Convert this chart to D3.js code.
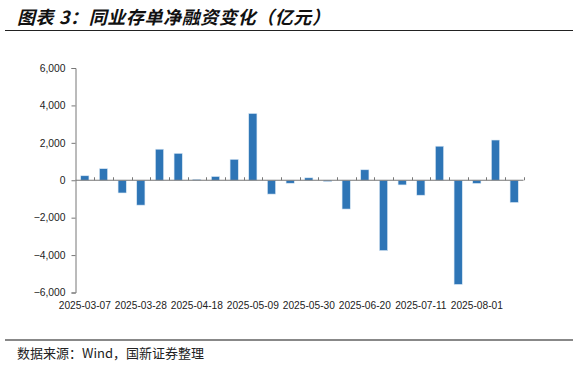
<!DOCTYPE html>
<html><head><meta charset="utf-8">
<script src="https://cdn.jsdelivr.net/npm/d3@7"></script>
<style>body{margin:0;background:#fff}svg{display:block}</style>
</head><body>
<svg id="c" width="578" height="367"></svg>
<script>
const dates = ["2025-03-07","2025-03-14","2025-03-21","2025-03-28","2025-04-04","2025-04-11","2025-04-18","2025-04-25","2025-05-02","2025-05-09","2025-05-16","2025-05-23","2025-05-30","2025-06-06","2025-06-13","2025-06-20","2025-06-27","2025-07-04","2025-07-11","2025-07-18","2025-07-25","2025-08-01","2025-08-08","2025-08-15"];
const values = [240,620,-680,-1330,1660,1440,50,200,1120,3570,-740,-160,130,-70,-1540,560,-3760,-250,-800,1820,-5570,-170,2150,-1190];
const yTicks = [-6000,-4000,-2000,0,2000,4000,6000];
const labelDates = ["2025-03-07","2025-03-28","2025-04-18","2025-05-09","2025-05-30","2025-06-20","2025-07-11","2025-08-01"];
const title = "图表 3：同业存单净融资变化（亿元）";
const source = "数据来源：Wind，国新证券整理";

const svg = d3.select("#c");
const L = 75.5, R = 523.5, T = 68, B = 292.5;
const x = d3.scaleBand().domain(dates).range([L, R]).paddingInner(0.56).paddingOuter(0.28);
const y = d3.scaleLinear().domain([-6000, 6000]).range([B, T]);

// title
svg.append("text").attr("x", 17).attr("y", 24)
  .attr("font-family", "'Noto Sans CJK SC'").attr("font-size", 18).attr("font-weight", "bold")
  .attr("font-style", "italic").attr("fill", "#111").attr("letter-spacing", 0.6).text(title);
svg.append("line").attr("x1", 5).attr("x2", 573).attr("y1", 30.5).attr("y2", 30.5)
  .attr("stroke", "#222").attr("stroke-width", 1);

// bars
svg.append("g").selectAll("rect").data(values).join("rect")
  .attr("x", (d, i) => x(dates[i]))
  .attr("width", x.bandwidth())
  .attr("y", d => y(Math.max(0, d)))
  .attr("height", d => Math.abs(y(d) - y(0)))
  .attr("fill", "#2E75B6")
  .attr("stroke", "#dbe8f5").attr("stroke-width", 0.6);

// y axis
const ya = svg.append("g").attr("transform", `translate(${L},0)`)
  .call(d3.axisLeft(y).tickValues(yTicks).tickSize(4).tickPadding(6).tickFormat(d3.format(",")));
ya.select(".domain").attr("stroke", "#777");
ya.selectAll(".tick line").attr("stroke", "#777");
ya.selectAll("text").attr("font-family", "'Liberation Sans', Arial").attr("font-size", 10.3).attr("fill", "#222");

// x axis line at zero with inward ticks at band boundaries
const bounds = dates.map((d, i) => L + (i + 1) * (R - L) / dates.length);
svg.append("line").attr("x1", L).attr("x2", R).attr("y1", y(0)).attr("y2", y(0))
  .attr("stroke", "#777").attr("stroke-width", 1);
svg.append("g").selectAll("line").data(bounds).join("line")
  .attr("x1", d => Math.round(d) + 0.5).attr("x2", d => Math.round(d) + 0.5)
  .attr("y1", y(0)).attr("y2", y(0) - 3).attr("stroke", "#777");

// x labels
svg.append("g").selectAll("text").data(labelDates).join("text")
  .attr("x", d => x(d) + x.bandwidth() / 2).attr("y", 309)
  .attr("text-anchor", "middle")
  .attr("font-family", "'Liberation Sans', Arial").attr("font-size", 10.2).attr("fill", "#222")
  .text(d => d);

// footer
svg.append("line").attr("x1", 5).attr("x2", 573).attr("y1", 340).attr("y2", 340)
  .attr("stroke", "#888").attr("stroke-width", 2);
svg.append("text").attr("x", 17).attr("y", 358)
  .attr("font-family", "'Noto Sans CJK SC'").attr("font-size", 13).attr("fill", "#222")
  .text(source);
</script>
</body></html>
